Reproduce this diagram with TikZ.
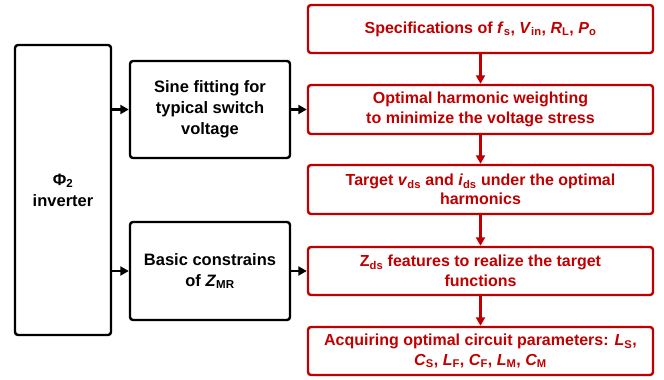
\documentclass[tikz,border=0pt]{standalone}
\usepackage{fontspec}
\setmainfont{Liberation Sans}
\usetikzlibrary{arrows.meta}

\definecolor{stepred}{RGB}{192,0,0}

\tikzset{
    blackbox/.style={draw=black, line width=2.4pt, rounded corners=3pt,
        align=center, font=\fontsize{16.5pt}{21pt}\selectfont\bfseries, inner sep=2pt},
    redbox/.style={draw=stepred, text=stepred, line width=2.4pt, rounded corners=3pt,
        align=center, font=\fontsize{16pt}{19.5pt}\selectfont\bfseries,
        minimum width=345pt, minimum height=48pt, inner sep=2pt},
    blackarrow/.style={-{Triangle[length=8.5pt,width=9pt]}, line width=2.2pt, black},
    redarrow/.style={-{Triangle[length=8.5pt,width=9pt]}, line width=2.2pt, stepred}
}

\begin{document}
\begin{tikzpicture}[x=1pt, y=-1pt]
    \useasboundingbox (0,0) rectangle (664,380);

    % left side
    \node[blackbox, minimum width=96pt, minimum height=290pt] (inv) at (63,190)
    {Φ\textsubscript{2}\\inverter};

    \node[blackbox, minimum width=160pt, minimum height=97pt] (sine) at (210,109.5)
    {Sine fitting for\\typical switch\\voltage};

    \node[blackbox, minimum width=160pt, minimum height=98pt] (basic) at (210,271)
    {Basic constrains\\of \textit{Z}\textsubscript{MR}};

    % right column
    \node[redbox] (spec) at (480.5,29)
    {Specifications of \textit{f}\textsubscript{s}, \textit{V}\textsubscript{in},
     \textit{R}\textsubscript{L}, \textit{P}\textsubscript{o}};

    \node[redbox, minimum height=49pt] (weight) at (480.5,109.5)
    {Optimal harmonic weighting\\to minimize the voltage stress};

    \node[redbox, minimum height=49pt] (target) at (480.5,189.5)
    {Target \textit{v}\textsubscript{ds} and \textit{i}\textsubscript{ds} under the optimal\\harmonics};

    \node[redbox] (zds) at (480.5,271)
    {Z\textsubscript{ds} features to realize the target\\functions};

    \node[redbox] (param) at (480.5,351)
    {Acquiring optimal circuit parameters: \textit{L}\textsubscript{S},\\
     \textit{C}\textsubscript{S}, \textit{L}\textsubscript{F}, \textit{C}\textsubscript{F},
     \textit{L}\textsubscript{M}, \textit{C}\textsubscript{M}};

    % connectors
    \draw[blackarrow] (inv.east |- sine) -- (sine);
    \draw[blackarrow] (inv.east |- basic) -- (basic);
    \draw[blackarrow] (sine) -- (weight);
    \draw[blackarrow] (basic) -- (zds);

    \foreach \a/\b in {spec/weight, weight/target, target/zds, zds/param}
        \draw[redarrow] (\a) -- (\b);
\end{tikzpicture}
\end{document}
